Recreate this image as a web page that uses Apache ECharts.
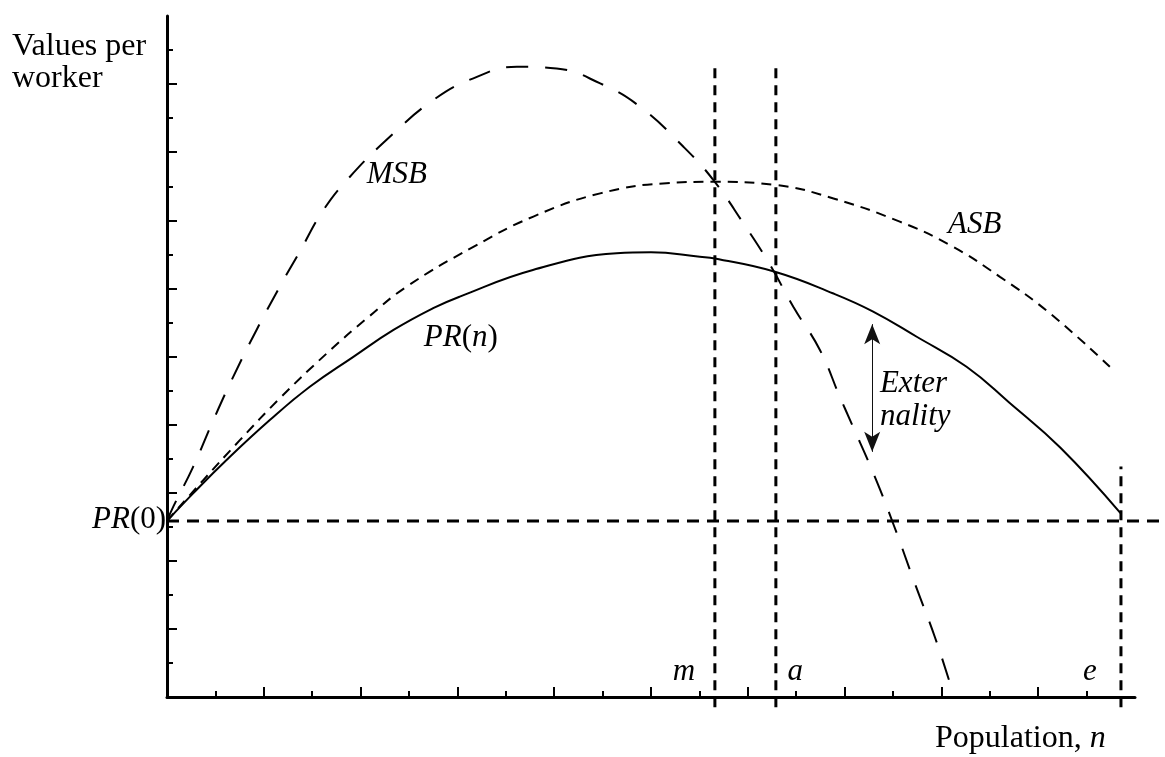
<!DOCTYPE html>
<html>
<head>
<meta charset="utf-8">
<script src="https://cdn.jsdelivr.net/npm/echarts@6/dist/echarts.min.js"></script>
<style>
html,body{margin:0;padding:0;background:#fff;}
#chart{width:1165px;height:757px;}
</style>
</head>
<body>
<div id="chart"></div>
<script>
// ---- data (in axis units) ----
const PR_X = [0, 0.54, 1.23, 2.13, 2.95, 3.85, 4.68, 5.5, 6.05, 7.56, 9.29, 10.0, 11.01, 11.32, 12.56, 13.77, 14.59, 15.49, 16.52, 17.4, 18.46, 19.7];
const PR_Y = [5.17, 5.98, 6.96, 8.14, 9.11, 9.99, 10.78, 11.42, 11.76, 12.54, 13.03, 13.06, 12.93, 12.88, 12.49, 11.85, 11.32, 10.58, 9.7, 8.65, 7.32, 5.4];

const ASB_X = [0, 0.75, 1.51, 2.33, 3.3, 4.13, 4.95, 6.33, 7.57, 8.95, 10.32, 11.3, 12.56, 13.77, 15.14, 16.18, 17.21, 18.24, 19.48];
const ASB_Y = [5.17, 6.37, 7.55, 8.77, 10.09, 11.12, 12.05, 13.22, 14.11, 14.79, 15.09, 15.13, 15.04, 14.64, 13.96, 13.27, 12.34, 11.27, 9.7];

const MSB_X = [0, 0.13, 0.54, 0.96, 1.37, 1.85, 2.33, 2.75, 3.23, 3.78, 4.61, 5.5, 6.33, 7.23, 8.05, 8.95, 9.77, 10.67, 11.29, 11.91, 12.46, 12.94, 13.49, 13.9, 14.12, 14.61, 15.02, 15.45, 15.87, 16.2];
const MSB_Y = [5.17, 5.59, 6.76, 8.14, 9.41, 10.78, 12.05, 13.1, 14.3, 15.28, 16.46, 17.53, 18.17, 18.51, 18.46, 18.02, 17.34, 16.16, 15.18, 13.91, 12.69, 11.46, 10.19, 8.82, 8.11, 6.52, 5.03, 3.34, 1.74, 0.3];

const PR0 = 5.17;
const X_MAX = 20, Y_MAX = 20, X_EXT = 20.62;
const M_X = 11.32, A_X = 12.58, E_X = 19.71;
const REF_TOP = 18.56, E_TOP = 6.77, REF_BOTTOM = -0.3;
const ARROW_X = 14.57, ARROW_TOP = 10.95, ARROW_BOTTOM = 7.2;

const X_LONG_TICKS = [2, 4, 6, 8, 10, 12, 14, 16, 18];
const X_SHORT_TICKS = [1, 3, 5, 7, 9, 11, 13, 15, 17, 19];
const Y_LONG_TICKS = [2, 4, 6, 8, 10, 12, 14, 16, 18];
const Y_SHORT_TICKS = [1, 3, 5, 7, 9, 11, 13, 15, 17, 19];

const LABEL_TEXTS = ['{i|MSB}', '{i|ASB}', '{i|PR}{r|(}{i|n}{r|)}', '{i|PR}{r|(0)}', '{i|Exter}\n{i|nality}', '{i|m}', '{i|a}', '{i|e}'];
const LABEL_POS = [[4.75, 15.33], [16.69, 13.86], [6.07, 10.55], [-0.02, 5.2], [14.73, 8.72], [10.68, 0.73], [12.98, 0.73], [19.07, 0.73]];
const LABEL_ALIGN = ['center', 'center', 'center', 'right', 'left', 'center', 'center', 'center'];

// ---- chart ----
const FONT = 'Liberation Serif';
const zip = (xs, ys) => xs.map((x, i) => [x, ys[i]]);
const rich = {
  i: { fontStyle: 'italic', fontFamily: FONT, fontSize: 31, color: '#000', lineHeight: 33, textBorderWidth: 0 },
  r: { fontStyle: 'normal', fontFamily: FONT, fontSize: 31, color: '#000', lineHeight: 33, textBorderWidth: 0 }
};

const chart = echarts.init(document.getElementById('chart'), null, { renderer: 'canvas' });

const baseAxis = {
  splitLine: { show: false },
  axisLabel: { show: false },
  axisPointer: { show: false }
};

const option = {
  backgroundColor: '#fff',
  animation: false,
  title: [
    {
      text: 'Values per\nworker', left: 12, top: 31, padding: 0,
      textStyle: { fontFamily: FONT, fontSize: 32, fontWeight: 'normal', color: '#000', lineHeight: 32 }
    },
    {
      text: 'Population, {i|n}', left: 935, top: 723, padding: 0,
      textStyle: {
        fontFamily: FONT, fontSize: 32, fontWeight: 'normal', color: '#000',
        rich: { i: { fontStyle: 'italic', fontFamily: FONT, fontSize: 32, color: '#000' } }
      }
    }
  ],
  grid: [
    { left: 167, right: 30, top: 16, bottom: 60 },
    { left: 167, right: 0, top: 16, bottom: 60 }
  ],
  xAxis: [
    Object.assign({}, baseAxis, {
      type: 'value', gridIndex: 0, min: 0, max: X_MAX, position: 'bottom',
      axisLine: { show: true, onZero: false, lineStyle: { color: '#000', width: 3 } },
      axisTick: { show: true, inside: true, length: 10, customValues: X_LONG_TICKS, lineStyle: { color: '#000', width: 2 } }
    }),
    Object.assign({}, baseAxis, {
      type: 'value', gridIndex: 1, min: 0, max: X_EXT, show: false
    }),
    Object.assign({}, baseAxis, {
      type: 'value', gridIndex: 0, min: 0, max: X_MAX, position: 'bottom',
      axisLine: { show: false, onZero: false },
      axisTick: { show: true, inside: true, length: 6, customValues: X_SHORT_TICKS, lineStyle: { color: '#000', width: 2 } }
    })
  ],
  yAxis: [
    Object.assign({}, baseAxis, {
      type: 'value', gridIndex: 0, min: 0, max: Y_MAX, position: 'left',
      axisLine: { show: true, onZero: false, lineStyle: { color: '#000', width: 3 } },
      axisTick: { show: true, inside: true, length: 10, customValues: Y_LONG_TICKS, lineStyle: { color: '#000', width: 2 } }
    }),
    Object.assign({}, baseAxis, {
      type: 'value', gridIndex: 1, min: 0, max: Y_MAX, show: false
    }),
    Object.assign({}, baseAxis, {
      type: 'value', gridIndex: 0, min: 0, max: Y_MAX, position: 'left',
      axisLine: { show: false, onZero: false },
      axisTick: { show: true, inside: true, length: 6, customValues: Y_SHORT_TICKS, lineStyle: { color: '#000', width: 2 } }
    })
  ],
  series: [
    {
      name: 'PR(0)', type: 'line', xAxisIndex: 1, yAxisIndex: 1,
      data: [[0, PR0], [X_EXT, PR0]], showSymbol: false, silent: true,
      lineStyle: { color: '#000', width: 3, type: [12, 8] }
    },
    {
      name: 'm', type: 'line', xAxisIndex: 0, yAxisIndex: 0, clip: false,
      data: [[M_X, REF_BOTTOM], [M_X, REF_TOP]], showSymbol: false, silent: true,
      lineStyle: { color: '#000', width: 3, type: [10, 7] }
    },
    {
      name: 'a', type: 'line', xAxisIndex: 0, yAxisIndex: 0, clip: false,
      data: [[A_X, REF_BOTTOM], [A_X, REF_TOP]], showSymbol: false, silent: true,
      lineStyle: { color: '#000', width: 3, type: [10, 7] }
    },
    {
      name: 'e', type: 'line', xAxisIndex: 0, yAxisIndex: 0, clip: false,
      data: [[E_X, REF_BOTTOM], [E_X, E_TOP]], showSymbol: false, silent: true,
      lineStyle: { color: '#000', width: 3, type: [10, 7] }
    },
    {
      name: 'PR(n)', type: 'line', xAxisIndex: 0, yAxisIndex: 0,
      data: zip(PR_X, PR_Y), showSymbol: false, smooth: 0.45,
      lineStyle: { color: '#000', width: 2 },
      markLine: {
        silent: true, symbol: ['arrow', 'arrow'], symbolSize: [12, 20],
        label: { show: false },
        lineStyle: { color: '#111', width: 1, type: 'solid', opacity: 1 },
        data: [[{ coord: [ARROW_X, ARROW_TOP] }, { coord: [ARROW_X, ARROW_BOTTOM] }]]
      }
    },
    {
      name: 'ASB', type: 'line', xAxisIndex: 0, yAxisIndex: 0,
      data: zip(ASB_X, ASB_Y), showSymbol: false, smooth: 0.45,
      lineStyle: { color: '#000', width: 2, type: [10, 7] }
    },
    {
      name: 'MSB', type: 'line', xAxisIndex: 0, yAxisIndex: 0,
      data: zip(MSB_X, MSB_Y), showSymbol: false, smooth: 0.45,
      lineStyle: { color: '#000', width: 2, type: [22, 17] }
    },
    {
      name: 'labels', type: 'scatter', xAxisIndex: 0, yAxisIndex: 0, clip: false,
      symbolSize: 0, silent: true, itemStyle: { color: '#000', opacity: 1 },
      data: LABEL_TEXTS.map((t, i) => ({
        value: LABEL_POS[i],
        label: {
          show: true, position: [0, 0], formatter: t, align: LABEL_ALIGN[i], verticalAlign: 'middle',
          fontFamily: FONT, fontSize: 31, color: '#000', opacity: 1, textBorderWidth: 0,
          lineHeight: 33, rich: rich
        }
      }))
    }
  ]
};
chart.setOption(option);
</script>
</body>
</html>
